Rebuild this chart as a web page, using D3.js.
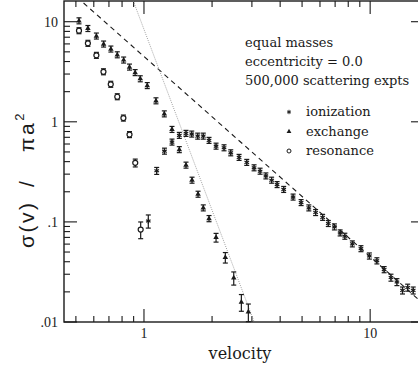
<!DOCTYPE html>
<html>
<head>
<meta charset="utf-8">
<script src="https://cdn.jsdelivr.net/npm/d3@7"></script>
<style>
  body { margin: 0; background: #fff; }
  svg { display: block; }
</style>
</head>
<body>
<div id="chart"></div>
<script>
// exchange (triangles)
const exchV = [0.516, 0.565, 0.616, 0.663, 0.714, 0.762, 0.813, 0.863, 0.914, 0.963,
  1.034, 1.130, 1.230, 1.330, 1.433, 1.534, 1.631, 1.734, 1.829, 1.939,
  2.083, 2.289, 2.494, 2.695, 2.894];
const exchS = [10.2, 8.55, 7.19, 5.98, 5.33, 4.67, 4.14, 3.52, 3.10, 2.69,
  2.30, 1.62, 1.20, 0.839, 0.527, 0.369, 0.261, 0.189, 0.138, 0.108,
  0.0698, 0.0441, 0.0275, 0.0158, 0.0126];
const exchE = [0.02, 0.02, 0.02, 0.02, 0.02, 0.02, 0.02, 0.02, 0.02, 0.02,
  0.02, 0.02, 0.02, 0.03, 0.03, 0.04, 0.04, 0.05, 0.06, 0.07,
  0.10, 0.12, 0.15, 0.19, 0.20];

// ionization (asterisks)
const ionV = [1.045, 1.138, 1.232, 1.330, 1.433, 1.534, 1.626, 1.728, 1.829, 1.939,
  2.083, 2.259, 2.419, 2.633, 2.847, 3.067, 3.261, 3.459, 3.667, 3.877,
  4.147, 4.563, 4.951, 5.356, 5.739, 6.164, 6.531, 6.950, 7.366, 7.728,
  8.341, 9.105, 9.920, 10.71, 11.53, 12.36, 13.13, 13.90, 14.65, 15.50];
const ionS = [0.102, 0.324, 0.509, 0.627, 0.731, 0.766, 0.754, 0.719, 0.719, 0.652,
  0.571, 0.550, 0.490, 0.441, 0.393, 0.347, 0.321, 0.288, 0.261, 0.236,
  0.211, 0.177, 0.156, 0.138, 0.124, 0.111, 0.0964, 0.0891, 0.0776, 0.0719,
  0.0603, 0.0540, 0.0457, 0.0409, 0.0334, 0.0278, 0.0251, 0.0207, 0.0221, 0.0207];
const ionE = [0.15, 0.08, 0.05, 0.04, 0.04, 0.04, 0.04, 0.04, 0.04, 0.04,
  0.04, 0.04, 0.04, 0.04, 0.04, 0.04, 0.04, 0.04, 0.04, 0.04,
  0.04, 0.05, 0.05, 0.05, 0.05, 0.05, 0.05, 0.06, 0.06, 0.06,
  0.06, 0.06, 0.07, 0.07, 0.07, 0.08, 0.08, 0.08, 0.08, 0.08];

// resonance (circles)
const resV = [0.516, 0.565, 0.616, 0.662, 0.713, 0.762, 0.811, 0.863, 0.915, 0.967];
const resS = [8.13, 6.08, 4.61, 3.16, 2.37, 1.78, 1.09, 0.745, 0.389, 0.0839];
const resE = [0.02, 0.02, 0.02, 0.03, 0.03, 0.04, 0.05, 0.06, 0.09, 0.19];

// reference power laws, as end points [v, sigma]
const dashLine = [[0.44, 23.2], [17.3, 0.0150]];   // ~ v^-2
const dotLine = [[0.897, 16.1], [3.07, 0.01]];     // ~ v^-6

const xMinor = [0.5, 0.6, 0.7, 0.8, 0.9, 2, 3, 4, 5, 6, 7, 8, 9];
const xMajor = [1, 10];
const xLabels = ['1', '10'];
const yMajor = [0.01, 0.1, 1, 10];
const yLabels = ['.01', '.1', '1', '10'];
const yMinor = [0.02, 0.03, 0.04, 0.05, 0.06, 0.07, 0.08, 0.09,
  0.2, 0.3, 0.4, 0.5, 0.6, 0.7, 0.8, 0.9, 2, 3, 4, 5, 6, 7, 8, 9];

const notes = ['equal masses', 'eccentricity = 0.0', '500,000 scattering expts'];
const legendNames = ['ionization', 'exchange', 'resonance'];

const W = 418, H = 368;
const pLeft = 64, pRight = 424, pTop = 1, pBottom = 322;
const ink = '#1a1a1a';

const svg = d3.select('#chart').append('svg')
  .attr('width', W).attr('height', H);

const x = d3.scaleLog().domain([0.443, 17.3]).range([pLeft, pRight]);
const y = d3.scaleLog().domain([0.01, 16.1]).range([pBottom, pTop]);

svg.append('clipPath').attr('id', 'plot')
  .append('rect').attr('x', pLeft).attr('y', pTop)
  .attr('width', pRight - pLeft).attr('height', pBottom - pTop);

// frame
svg.append('rect')
  .attr('x', pLeft).attr('y', pTop)
  .attr('width', pRight - pLeft).attr('height', pBottom - pTop)
  .attr('fill', 'none').attr('stroke', ink).attr('stroke-width', 1.4);

// ticks on all four sides, pointing inward
const ticks = svg.append('g').attr('stroke', ink).attr('stroke-width', 1.1);
[[xMajor, 13], [xMinor, 6]].forEach(([vals, len]) => {
  vals.forEach(v => {
    ticks.append('line').attr('x1', x(v)).attr('x2', x(v)).attr('y1', pBottom).attr('y2', pBottom - len);
    ticks.append('line').attr('x1', x(v)).attr('x2', x(v)).attr('y1', pTop).attr('y2', pTop + len);
  });
});
[[yMajor, 13], [yMinor, 6]].forEach(([vals, len]) => {
  vals.forEach(s => {
    ticks.append('line').attr('y1', y(s)).attr('y2', y(s)).attr('x1', pLeft).attr('x2', pLeft + len);
    ticks.append('line').attr('y1', y(s)).attr('y2', y(s)).attr('x1', pRight).attr('x2', pRight - len);
  });
});

// tick labels
const tickFont = 'Liberation Serif';
svg.selectAll('.xl').data(xMajor).enter().append('text')
  .attr('x', d => x(d)).attr('y', 338)
  .attr('text-anchor', 'middle')
  .attr('font-family', tickFont).attr('font-size', 14).attr('fill', ink)
  .text((d, i) => xLabels[i]);
svg.selectAll('.yl').data(yMajor).enter().append('text')
  .attr('x', 58).attr('y', d => y(d) + 5)
  .attr('text-anchor', 'end')
  .attr('font-family', tickFont).attr('font-size', 14).attr('fill', ink)
  .text((d, i) => yLabels[i]);

// axis titles
svg.append('text')
  .attr('x', 240).attr('y', 359)
  .attr('text-anchor', 'middle')
  .attr('font-family', 'DejaVu Serif').attr('font-size', 16).attr('fill', ink)
  .text('velocity');

const yt = svg.append('text')
  .attr('transform', 'translate(34,248) rotate(-90)')
  .attr('font-family', 'Liberation Sans').attr('font-size', 21).attr('fill', ink)
  .attr('letter-spacing', 2.5);
yt.append('tspan').attr('x', 0).text('σ(v)');
yt.append('tspan').attr('x', 61).text('/');
yt.append('tspan').attr('x', 96).text('πa');
yt.append('tspan').attr('font-size', 13).attr('dy', -10).text('2');

// fit lines
const line = d3.line().x(d => x(d[0])).y(d => y(d[1]));
const fits = svg.append('g').attr('clip-path', 'url(#plot)').attr('fill', 'none');
fits.append('path').attr('d', line(dashLine))
  .attr('stroke', ink).attr('stroke-width', 1.1).attr('stroke-dasharray', '5,4');
fits.append('path').attr('d', line(dotLine))
  .attr('stroke', '#888').attr('stroke-width', 0.8).attr('stroke-dasharray', '1,1.2');

// markers
function asterisk(g, cx, cy, r) {
  [90, 30, 150].forEach(a => {
    const dx = r * Math.cos(a * Math.PI / 180), dy = r * Math.sin(a * Math.PI / 180);
    g.append('line').attr('x1', cx - dx).attr('y1', cy - dy).attr('x2', cx + dx).attr('y2', cy + dy);
  });
}
function triangle(g, cx, cy, size) {
  g.append('path').attr('d', d3.symbol(d3.symbolTriangle, size)())
    .attr('transform', `translate(${cx},${cy})`).attr('fill', ink).attr('stroke', 'none');
}
function ring(g, cx, cy, r) {
  g.append('circle').attr('cx', cx).attr('cy', cy).attr('r', r).attr('fill', '#fff');
}

function errorBar(g, v, s, e) {
  const cx = x(v), cy = y(s);
  const y1 = Math.min(y(s * (1 + e)), cy - 3);
  const y2 = Math.max(y(s * (1 - e)), cy + 3);
  g.append('line').attr('x1', cx).attr('x2', cx).attr('y1', y1).attr('y2', y2);
  g.append('line').attr('x1', cx - 2.5).attr('x2', cx + 2.5).attr('y1', y1).attr('y2', y1);
  g.append('line').attr('x1', cx - 2.5).attr('x2', cx + 2.5).attr('y1', y2).attr('y2', y2);
}

const pts = svg.append('g').attr('stroke', ink).attr('stroke-width', 1.2);

exchV.forEach((v, i) => {
  errorBar(pts, v, exchS[i], exchE[i]);
  triangle(pts, x(v), y(exchS[i]), 13);
});
ionV.forEach((v, i) => {
  errorBar(pts, v, ionS[i], ionE[i]);
  asterisk(pts, x(v), y(ionS[i]), 2.6);
});
resV.forEach((v, i) => {
  errorBar(pts, v, resS[i], resE[i]);
  ring(pts, x(v), y(resS[i]), 2.5);
});

// annotation
svg.selectAll('.note').data(notes).enter().append('text')
  .attr('x', 245).attr('y', (d, i) => 47 + i * 19)
  .attr('font-family', 'DejaVu Serif').attr('font-size', 13).attr('fill', ink)
  .text(d => d);

// legend
const leg = svg.append('g');
legendNames.forEach((name, i) => {
  const ly = 116 + i * 19.5;
  leg.append('text').attr('x', 306).attr('y', ly)
    .attr('font-family', 'DejaVu Serif').attr('font-size', 13).attr('fill', ink)
    .text(name);
});
const legMarks = leg.append('g').attr('stroke', ink).attr('stroke-width', 1);
asterisk(legMarks, 289, 112, 2.2);
triangle(legMarks, 289, 131.5, 10);
ring(legMarks, 289, 151, 2);
</script>
</body>
</html>
